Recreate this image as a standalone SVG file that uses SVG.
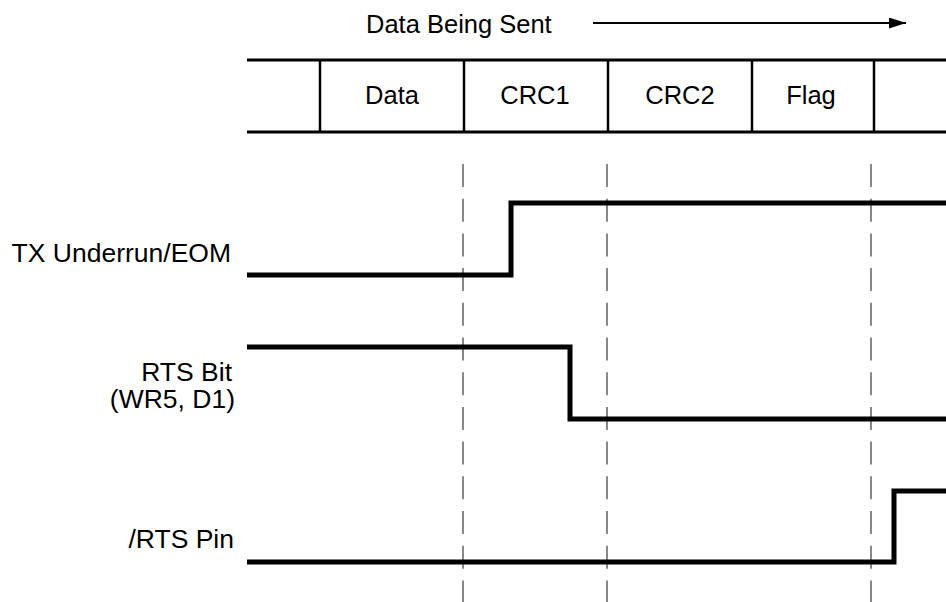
<svg xmlns="http://www.w3.org/2000/svg" width="946" height="602" viewBox="0 0 946 602">
<style>
text{font-family:"Liberation Sans",Arial,sans-serif;font-size:25.5px;fill:#000}
.lbl{font-size:26.5px}
.c{text-anchor:middle}
.e{text-anchor:end}
.tbl{stroke:#000;stroke-width:3;fill:none}
.div{stroke:#000;stroke-width:2.5;fill:none}
.dash{stroke:#888;stroke-width:2;stroke-dasharray:23 11.7;fill:none}
.sig{stroke:#000;stroke-width:5;fill:none;stroke-linejoin:miter;stroke-linecap:butt}
</style>
<defs>
<marker id="ah" viewBox="0 0 17 11" refX="17" refY="5.5" markerWidth="17" markerHeight="11" markerUnits="userSpaceOnUse" orient="auto">
<path d="M0,0 L17,5.5 L0,11 Z" fill="#000"/>
</marker>
</defs>
<g id="header">
<text x="366" y="33">Data Being Sent</text>
<line x1="593" y1="23" x2="906" y2="23" stroke="#000" stroke-width="2" marker-end="url(#ah)"/>
</g>
<g id="table">
<line class="tbl" x1="247" y1="60" x2="946" y2="60"/>
<line class="tbl" x1="247" y1="132" x2="946" y2="132"/>
<line class="div" x1="320" y1="60" x2="320" y2="132"/>
<line class="div" x1="464" y1="60" x2="464" y2="132"/>
<line class="div" x1="608" y1="60" x2="608" y2="132"/>
<line class="div" x1="752" y1="60" x2="752" y2="132"/>
<line class="div" x1="874" y1="60" x2="874" y2="132"/>
<text class="c" x="392" y="104">Data</text>
<text class="c" x="535" y="104">CRC1</text>
<text class="c" x="680" y="104">CRC2</text>
<text class="c" x="811" y="104">Flag</text>
</g>
<g id="guides">
<line class="dash" x1="463" y1="164" x2="463" y2="602"/>
<line class="dash" x1="607" y1="164" x2="607" y2="602"/>
<line class="dash" x1="871" y1="164" x2="871" y2="602"/>
</g>
<g id="tx-underrun">
<text class="e lbl" x="231" y="262">TX Underrun/EOM</text>
<polyline class="sig" points="247,275 511,275 511,203 946,203"/>
</g>
<g id="rts-bit">
<text class="e lbl" x="232" y="381">RTS Bit</text>
<text class="e lbl" x="235" y="408">(WR5, D1)</text>
<polyline class="sig" points="247,347 570,347 570,419 946,419"/>
</g>
<g id="rts-pin">
<text class="e lbl" x="234" y="548">/RTS Pin</text>
<polyline class="sig" points="247,562 894,562 894,491 946,491"/>
</g>
</svg>
